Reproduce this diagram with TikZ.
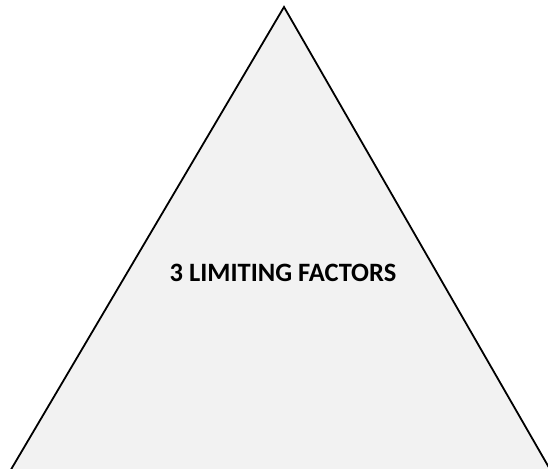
\documentclass[tikz,border=0pt]{standalone}
\usepackage{fontspec}
\setmainfont{Carlito}
\definecolor{trifill}{HTML}{F2F2F2}
\begin{document}
\begin{tikzpicture}[x=1pt,y=1pt,
  tri/.style={draw=black,line width=1.8pt,fill=trifill,line join=miter},
  lbl/.style={font=\bfseries\fontsize{26.5}{30}\selectfont,text=black}]
\useasboundingbox (0,0) rectangle (548,468);
\begin{scope}
\clip (0,0) rectangle (548,468);
\coordinate (apex) at (284,461);
\coordinate (bl) at (6,-10);
\coordinate (br) at (555,-10);
\draw[tri] (bl) -- (apex) -- (br) -- cycle;
\end{scope}
\node[lbl] (t) at (283,195) {3 LIMITING FACTORS};
\end{tikzpicture}
\end{document}
